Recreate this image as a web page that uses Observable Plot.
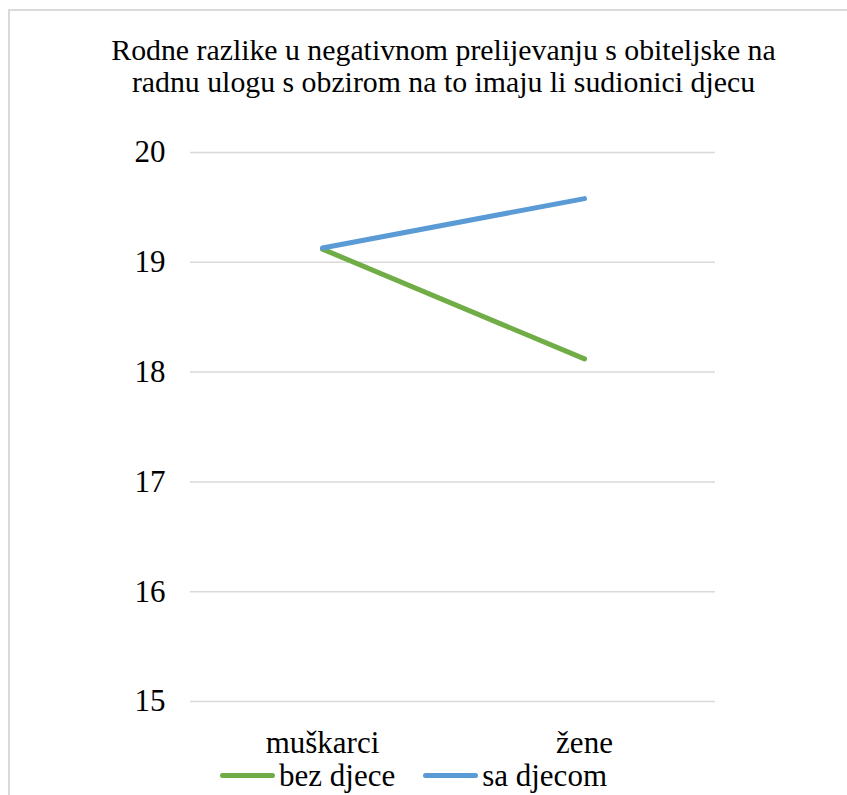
<!DOCTYPE html>
<html>
<head>
<meta charset="utf-8">
<script src="https://cdn.jsdelivr.net/npm/d3@7"></script>
<script src="https://cdn.jsdelivr.net/npm/@observablehq/plot@0.6"></script>
<style>
  html, body { margin: 0; padding: 0; background: #fff; }
  #wrap { position: relative; width: 847px; height: 795px; overflow: hidden; font-family: "Liberation Serif", Tinos, "Times New Roman", "Nimbus Roman", "DejaVu Serif", serif; color: #000; }
  #frame { position: absolute; left: 8px; top: 9px; right: -4px; bottom: -4px; border-left: 2px solid #d9d9d9; border-top: 2px solid #d9d9d9; box-sizing: border-box; }
  #title { position: absolute; left: 0; width: 887px; top: 34px; text-align: center; font-size: 29.8px; line-height: 32px; white-space: nowrap; }
  #chart { position: absolute; left: 0; top: 100px; }
  #legend { position: absolute; left: 220px; top: 760px; font-size: 31px; line-height: 31px; white-space: nowrap; }
  .sw { display: inline-block; width: 55px; height: 5px; border-radius: 3px; vertical-align: 8.5px; margin-right: 4px; }
  .item { display: inline-block; }
  .item + .item { margin-left: 28px; }
  #chart svg text { font-family: "Liberation Serif", Tinos, "Times New Roman", "Nimbus Roman", "DejaVu Serif", serif; }
</style>
</head>
<body>
<div id="wrap">
  <div id="frame"></div>
  <div id="title">Rodne razlike u negativnom prelijevanju s obiteljske na<br>radnu ulogu s obzirom na to imaju li sudionici djecu</div>
  <div id="chart"></div>
  <div id="legend"></div>
</div>
<script>
const categories = ["muškarci", "žene"];
const seriesNames = ["bez djece", "sa djecom"];
const bezDjece = [19.12, 18.12];
const saDjecom = [19.13, 19.58];
const yTicks = [15, 16, 17, 18, 19, 20];
const colors = ["#70ad47", "#5b9bd5"];

const rows = [];
[bezDjece, saDjecom].forEach((vals, si) => {
  vals.forEach((v, i) => rows.push({ series: seriesNames[si], cat: categories[i], value: v }));
});

const plot = Plot.plot({
  width: 847,
  height: 660,
  marginTop: 52,
  marginLeft: 190,
  marginRight: 132,
  marginBottom: 59,
  style: { fontFamily: '"Liberation Serif", Tinos, "Times New Roman", "DejaVu Serif", serif', color: "#000", background: "transparent", overflow: "visible" },
  x: { type: "point", domain: categories, padding: 0.5 },
  y: { domain: [15, 20] },
  color: { domain: seriesNames, range: colors },
  marks: [
    Plot.gridY(yTicks, { stroke: "#d9d9d9", strokeOpacity: 1, strokeWidth: 1.5 }),
    Plot.axisY(yTicks, { tickSize: 0, tickPadding: 25, fontSize: 31, label: null, tickFormat: d => String(d) }),
    Plot.axisX({ tickSize: 0, tickPadding: 29, fontSize: 31, label: null }),
    Plot.line(rows, { x: "cat", y: "value", z: "series", stroke: "series", strokeWidth: 5, strokeLinecap: "round", strokeLinejoin: "round" })
  ]
});
document.getElementById("chart").appendChild(plot);

const legend = document.getElementById("legend");
seriesNames.forEach((name, i) => {
  const item = document.createElement("span");
  item.className = "item";
  const sw = document.createElement("span");
  sw.className = "sw";
  sw.style.background = colors[i];
  item.appendChild(sw);
  item.appendChild(document.createTextNode(name));
  legend.appendChild(item);
});
</script>
</body>
</html>
